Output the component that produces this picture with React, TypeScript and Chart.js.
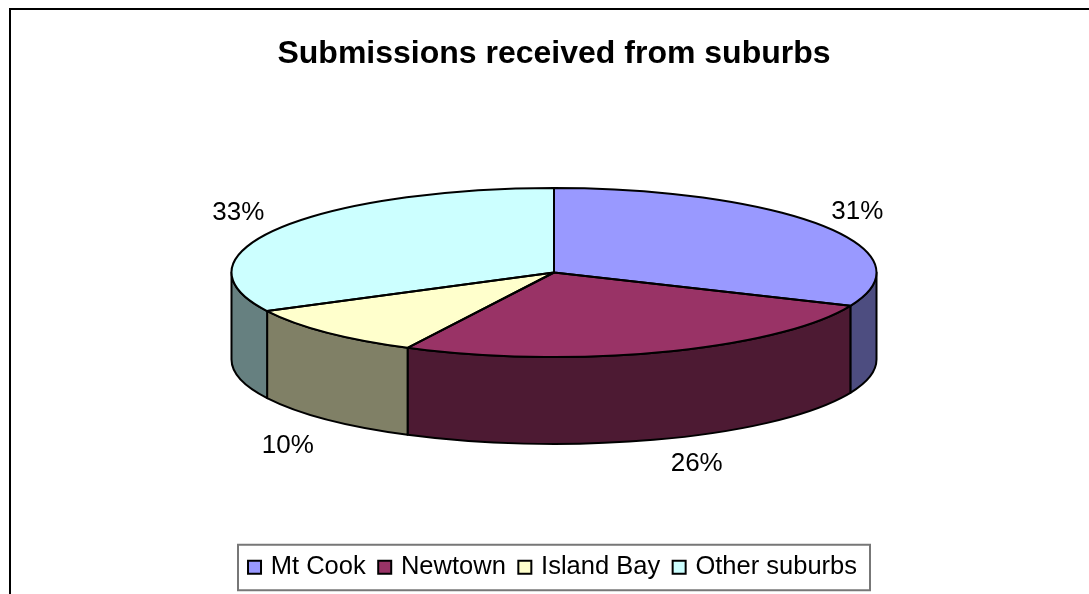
import React, { useEffect, useRef } from "react";
import { Chart, registerables } from "chart.js";

Chart.register(...registerables);

const titleText = "Submissions received from suburbs";
const categories = ["Mt Cook", "Newtown", "Island Bay", "Other suburbs"];
const shares = [31.45, 26.05, 9.95, 32.55];
const topColors = ["#9999FF", "#993366", "#FFFFCC", "#CCFFFF"];
const sideColors = ["#4D4D80", "#4D1A33", "#808066", "#668080"];
const FONT = "'Liberation Sans', Arial, sans-serif";

const tiltOptions = {
  centreY: 272.5,
  radiusY: 84.5,
  depth: 87,
  labelNudges: [
    [34, -14.5],
    [33, 25],
    [-38.5, 26],
    [-40.5, -15.6],
  ],
};

const tiltedPie = {
  id: "tiltedPie",
  beforeDraw(chart: any) {
    const { ctx, width, height } = chart;
    ctx.save();
    ctx.fillStyle = "#fff";
    ctx.fillRect(0, 0, width, height);
    ctx.fillStyle = "#000";
    ctx.fillRect(9, 8, width - 9, 2);
    ctx.fillRect(9, 8, 2, height - 8);
    ctx.restore();
  },
  beforeDatasetsDraw(chart: any) {
    const { ctx } = chart;
    const arcs = chart.getDatasetMeta(0).data;
    ctx.save();
    ctx.lineWidth = 2;
    ctx.strokeStyle = "#000";
    ctx.lineJoin = "round";
    arcs.forEach((a: any, i: number) => {
      const s = Math.max(a.startAngle, 0);
      const e = Math.min(a.endAngle, Math.PI);
      if (s >= e) return;
      const { centreY, radiusY, depth } = tiltOptions;
      ctx.beginPath();
      ctx.ellipse(a.x, centreY, a.outerRadius, radiusY, 0, s, e);
      ctx.ellipse(a.x, centreY + depth, a.outerRadius, radiusY, 0, e, s, true);
      ctx.closePath();
      ctx.fillStyle = sideColors[i];
      ctx.fill();
      ctx.stroke();
    });
    ctx.restore();
  },
  beforeDatasetDraw(chart: any) {
    const { ctx } = chart;
    const a = chart.getDatasetMeta(0).data[0];
    ctx.save();
    ctx.translate(0, tiltOptions.centreY);
    ctx.scale(1, tiltOptions.radiusY / a.outerRadius);
    ctx.translate(0, -a.y);
  },
  afterDatasetDraw(chart: any) {
    const { ctx } = chart;
    ctx.restore();
    const arcs = chart.getDatasetMeta(0).data;
    const { centreY, radiusY, depth, labelNudges } = tiltOptions;
    ctx.save();
    ctx.lineWidth = 2;
    ctx.strokeStyle = "#000";
    ctx.lineJoin = "round";
    arcs.forEach((a: any) => {
      ctx.beginPath();
      ctx.moveTo(a.x, centreY);
      ctx.ellipse(a.x, centreY, a.outerRadius, radiusY, 0, a.startAngle, a.endAngle);
      ctx.closePath();
      ctx.stroke();
    });
    const total = shares.reduce((p, c) => p + c, 0);
    ctx.fillStyle = "#000";
    ctx.font = `26px ${FONT}`;
    ctx.textAlign = "center";
    ctx.textBaseline = "middle";
    arcs.forEach((a: any, i: number) => {
      const mid = (a.startAngle + a.endAngle) / 2;
      const front = Math.sin(mid) > 0 ? depth : 0;
      const x = a.x + a.outerRadius * Math.cos(mid) + labelNudges[i][0];
      const y = centreY + radiusY * Math.sin(mid) + front + labelNudges[i][1];
      ctx.fillText(`${Math.round((shares[i] / total) * 100)}%`, x, y);
    });
    ctx.restore();
  },
  afterDraw(chart: any) {
    const { ctx, legend } = chart;
    const boxes = legend.legendHitBoxes;
    if (!boxes || !boxes.length) return;
    const first = boxes[0];
    const cy = first.top + first.height / 2;
    ctx.save();
    ctx.strokeStyle = "#777";
    ctx.lineWidth = 2;
    ctx.strokeRect(238, cy - 22.5, 632, 45.5);
    ctx.restore();
  },
};

export default function App() {
  const ref = useRef<HTMLCanvasElement>(null);
  useEffect(() => {
    const chart = new Chart(ref.current as HTMLCanvasElement, {
      type: "pie",
      data: {
        labels: categories,
        datasets: [
          {
            data: shares,
            backgroundColor: topColors,
            borderWidth: 0,
            clip: false,
          } as any,
        ],
      },
      options: {
        responsive: false,
        animation: false,
        radius: 322.5,
        layout: { padding: { left: 19, right: 0, top: 0, bottom: 4 } },
        plugins: {
          tooltip: { enabled: false },
          title: {
            display: true,
            text: titleText,
            color: "#000",
            font: { family: FONT, size: 32, weight: "bold" },
            padding: { top: 35, bottom: 10 },
          },
          legend: {
            position: "bottom",
            labels: {
              color: "#000",
              font: { family: FONT, size: 25.5 },
              boxWidth: 7,
              boxHeight: 13,
              padding: 15.5,
              usePointStyle: true,
              pointStyle: "rect",
              generateLabels: () =>
                categories.map((text, i) => ({
                  text,
                  fillStyle: topColors[i],
                  strokeStyle: "#000",
                  lineWidth: 2,
                  pointStyle: "rect",
                  index: i,
                })),
            },
          },
        },
      } as any,
      plugins: [tiltedPie],
    });
    return () => chart.destroy();
  }, []);
  return (
    <canvas
      ref={ref}
      width={1089}
      height={594}
      style={{ position: "fixed", left: 0, top: 0, display: "block" }}
    />
  );
}
